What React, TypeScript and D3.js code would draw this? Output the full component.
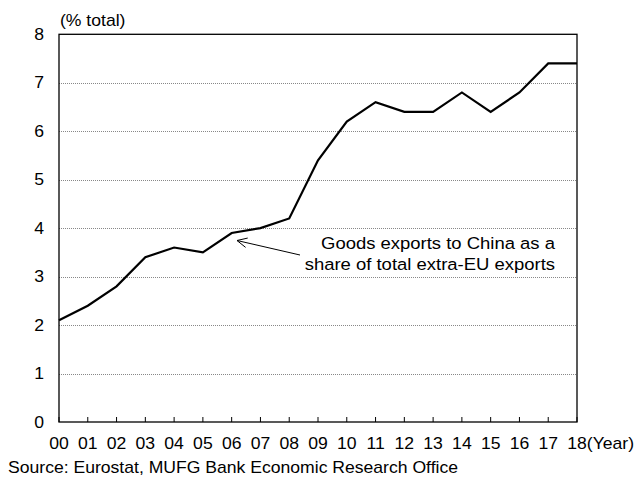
import React from "react";
import * as d3 from "d3";

const years = ["00","01","02","03","04","05","06","07","08","09","10","11","12","13","14","15","16","17","18"];
const shareValues = [2.1, 2.4, 2.8, 3.4, 3.6, 3.5, 3.9, 4.0, 4.2, 5.4, 6.2, 6.6, 6.4, 6.4, 6.8, 6.4, 6.8, 7.4, 7.4];
const yTicks = [0, 1, 2, 3, 4, 5, 6, 7, 8];
const annotationLines = ["Goods exports to China as a", "share of total extra-EU exports"];
const yUnit = "(% total)";
const xUnit = "(Year)";
const sourceText = "Source: Eurostat, MUFG Bank Economic Research Office";

const W = 638, H = 477;
const L = 59, R = 577, T = 34.3, B = 422;
const FONT = "'Liberation Sans', Arial, sans-serif";
const FS = 16;
const SX = 1.1;

function T2({ x, y, anchor = "start", fs = FS, children }: { x: number; y: number; anchor?: string; fs?: number; children: React.ReactNode }) {
  return (
    <g transform={`translate(${x},${y}) scale(${SX},1)`}>
      <text x={0} y={0} textAnchor={anchor as any} fontFamily={FONT} fontSize={fs} fill="#000">{children}</text>
    </g>
  );
}

export default function App() {
  const x = d3.scalePoint<string>().domain(years).range([L, R]);
  const y = d3.scaleLinear().domain([0, 8]).range([B, T]);
  const line = d3.line<number>().x((_, i) => x(years[i])!).y(d => y(d));
  const lastX = x(years[years.length - 1])!;
  const lastHalf = (0.556 * FS * SX);

  // arrow geometry
  const ax0 = 300, ay0 = 255, ax1 = 237, ay1 = 240.5;
  const ang = Math.atan2(ay0 - ay1, ax0 - ax1);
  const hl = 11, ha = 0.45;
  const p1 = [ax1 + hl * Math.cos(ang + ha), ay1 + hl * Math.sin(ang + ha)];
  const p2 = [ax1 + hl * Math.cos(ang - ha), ay1 + hl * Math.sin(ang - ha)];

  return (
    <svg width={W} height={H} style={{ position: "absolute", left: 0, top: 0, background: "#fff" }}>
      <rect x={0} y={0} width={W} height={H} fill="#fff" />
      {yTicks.filter(t => t > 0 && t < 8).map(t => (
        <line key={t} x1={L} x2={R} y1={Math.round(y(t)) + 0.5} y2={Math.round(y(t)) + 0.5} stroke="#888" strokeWidth={1} strokeDasharray="1,1" />
      ))}
      <rect x={L} y={T} width={R - L} height={B - T} fill="none" stroke="#000" strokeWidth={1.3} />
      {years.map(yr => (
        <line key={yr} x1={x(yr)!} x2={x(yr)!} y1={B} y2={B - 5} stroke="#000" strokeWidth={1} />
      ))}
      {yTicks.map(t => (
        <T2 key={t} x={44} y={y(t) + 5.5} anchor="end">{t}</T2>
      ))}
      {years.map(yr => (
        <T2 key={yr} x={x(yr)!} y={449} anchor="middle">{yr}</T2>
      ))}
      <T2 x={lastX + lastHalf} y={449}>{xUnit}</T2>
      <T2 x={60} y={26}>{yUnit}</T2>
      <T2 x={8} y={473}>{sourceText}</T2>
      <path d={line(shareValues)!} fill="none" stroke="#000" strokeWidth={2.2} strokeLinejoin="miter" />
      {annotationLines.map((s, i) => (
        <T2 key={i} x={555} y={249 + i * 21} anchor="end" fs={16.8}>{s}</T2>
      ))}
      <line x1={ax0} y1={ay0} x2={ax1} y2={ay1} stroke="#000" strokeWidth={1} />
      <polyline points={`${p1[0]},${p1[1]} ${ax1},${ay1} ${p2[0]},${p2[1]}`} fill="none" stroke="#000" strokeWidth={1} />
    </svg>
  );
}
